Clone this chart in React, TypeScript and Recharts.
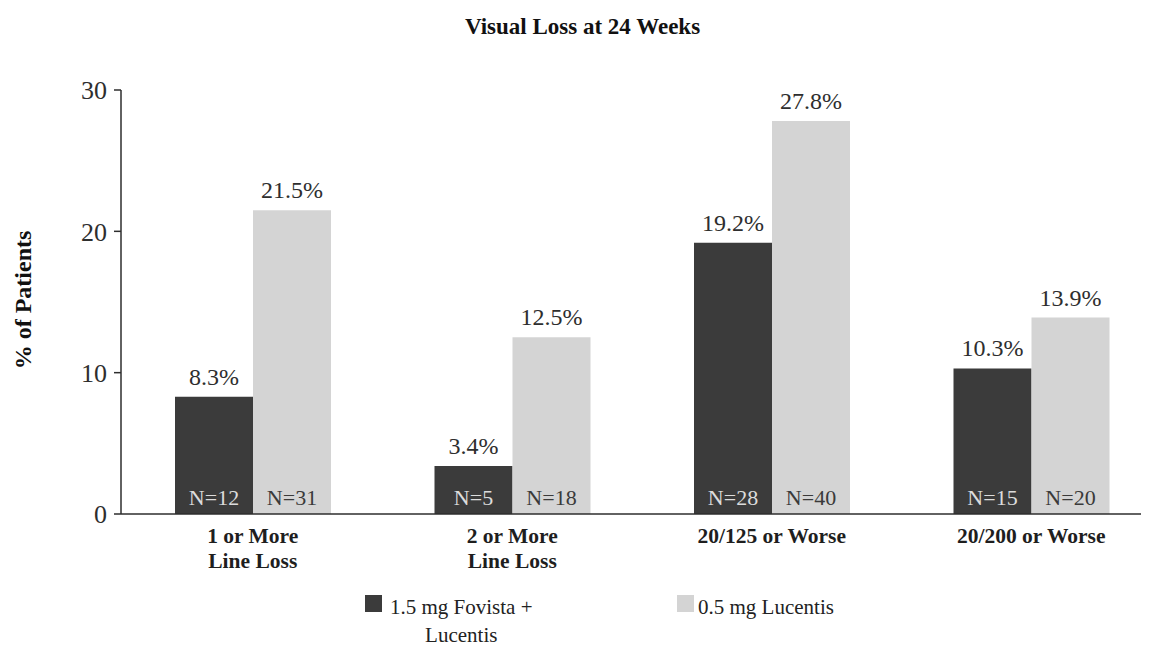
import React from 'react';
import { BarChart, Bar, XAxis, YAxis, LabelList } from 'recharts';

// Categories and per-group values (% of patients, group sizes)
const categories = ['1 or More\nLine Loss', '2 or More\nLine Loss', '20/125 or Worse', '20/200 or Worse'];
const fovistaPct = [8.3, 3.4, 19.2, 10.3];
const lucentisPct = [21.5, 12.5, 27.8, 13.9];
const fovistaN = [12, 5, 28, 15];
const lucentisN = [31, 18, 40, 20];
const yTicks = [0, 10, 20, 30];
const seriesNames = ['1.5 mg Fovista +\nLucentis', '0.5 mg Lucentis'];

const SERIF = "'Liberation Serif', 'Times New Roman', serif";
const DARK = '#3b3b3b';
const LIGHT = '#d4d4d4';
const INK = '#2e2e2e';

const data = categories.map((category, i) => ({
  category,
  fovista: fovistaPct[i],
  lucentis: lucentisPct[i],
  nFovista: fovistaN[i],
  nLucentis: lucentisN[i],
}));

const CategoryTick = (props: any) => {
  const { x, y, payload } = props;
  const lines = String(payload.value).split('\n');
  return (
    <text x={x} y={y} textAnchor="middle" fontFamily={SERIF} fontWeight="bold" fontSize={21.5} fill="#1e1e1e">
      {lines.map((line, i) => (
        <tspan key={i} x={x} dy={i === 0 ? 29 : 25}>
          {line}
        </tspan>
      ))}
    </text>
  );
};

const countLabel = (fill: string) => (props: any) => {
  const { x, y, width, height, value } = props;
  return (
    <text
      x={Number(x) + Number(width) / 2}
      y={Number(y) + Number(height) - 9}
      textAnchor="middle"
      fontFamily={SERIF}
      fontSize={22}
      fill={fill}
    >
      {`N=${value}`}
    </text>
  );
};

const pct = (v: any) => `${v}%`;

export default function App() {
  const legendItems = [
    { name: seriesNames[0], color: DARK, swatchLeft: 357, textLeft: 382 },
    { name: seriesNames[1], color: LIGHT, swatchLeft: 669, textLeft: 690 },
  ];
  return (
    <div style={{ position: 'relative', width: 1141, height: 640, overflow: 'hidden', fontFamily: SERIF, background: '#fff' }}>
      <div
        style={{
          position: 'absolute',
          left: 574.5,
          top: 7,
          transform: 'translateX(-50%)',
          fontSize: 23,
          lineHeight: '23px',
          fontWeight: 'bold',
          whiteSpace: 'nowrap',
          color: '#111',
        }}
      >
        Visual Loss at 24 Weeks
      </div>
      <div
        style={{
          position: 'absolute',
          left: 15,
          top: 292,
          transform: 'translate(-50%, -50%) rotate(-90deg)',
          fontSize: 24,
          lineHeight: '24px',
          fontWeight: 'bold',
          whiteSpace: 'nowrap',
          color: '#111',
        }}
      >
        % of Patients
      </div>
      <BarChart
        width={1153}
        height={576}
        data={data}
        margin={{ top: 82, right: 0, bottom: 0, left: 0 }}
        barGap={0}
      >
        <XAxis
          dataKey="category"
          height={70}
          padding={{ left: 2, right: 0 }}
          axisLine={{ stroke: INK, strokeWidth: 1.5 }}
          tickLine={false}
          tickSize={0}
          tickMargin={0}
          interval={0}
          tick={<CategoryTick />}
        />
        <YAxis
          width={113}
          domain={[0, 30]}
          ticks={yTicks}
          axisLine={{ stroke: INK, strokeWidth: 1.5 }}
          tickLine={{ stroke: INK, strokeWidth: 1.5 }}
          tickSize={7}
          tickMargin={7}
          tick={{ fontFamily: SERIF, fontSize: 26, fill: INK }}
        />
        <Bar dataKey="fovista" fill={DARK} barSize={78} isAnimationActive={false}>
          <LabelList dataKey="fovista" position="top" offset={12} formatter={pct} fontFamily={SERIF} fontSize={24} fill={INK} />
          <LabelList dataKey="nFovista" content={countLabel('#dcdcdc')} />
        </Bar>
        <Bar dataKey="lucentis" fill={LIGHT} barSize={78} isAnimationActive={false}>
          <LabelList dataKey="lucentis" position="top" offset={12} formatter={pct} fontFamily={SERIF} fontSize={24} fill={INK} />
          <LabelList dataKey="nLucentis" content={countLabel('#3a3a3a')} />
        </Bar>
      </BarChart>
      {legendItems.map((item) => (
        <React.Fragment key={item.name}>
          <div
            style={{
              position: 'absolute',
              left: item.swatchLeft,
              top: 587,
              width: 17,
              height: 17,
              background: item.color,
            }}
          />
          <div
            style={{
              position: 'absolute',
              left: item.textLeft,
              top: 584.5,
              fontSize: 21,
              lineHeight: '28px',
              textAlign: 'center',
              whiteSpace: 'pre',
              color: '#222',
            }}
          >
            {item.name}
          </div>
        </React.Fragment>
      ))}
    </div>
  );
}
